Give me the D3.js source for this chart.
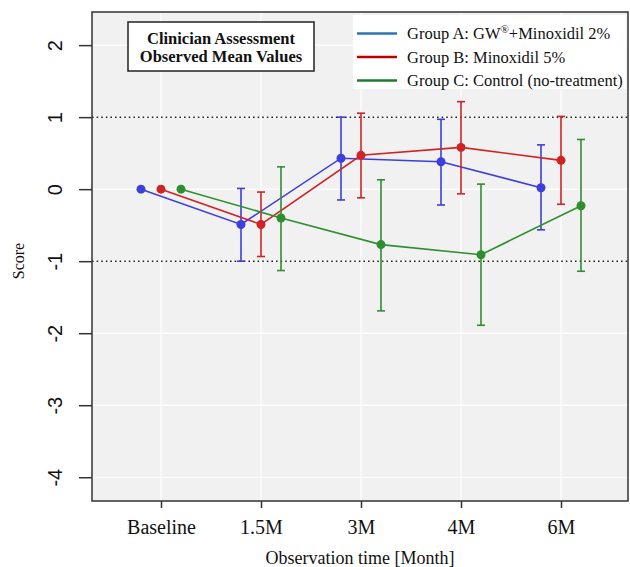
<!DOCTYPE html>
<html>
<head>
<meta charset="utf-8">
<script src="https://cdn.jsdelivr.net/npm/d3@7"></script>
<style>
  body { margin: 0; background: #fff; }
</style>
</head>
<body>
<svg></svg>
<script>
let width = 630;
let height = 567;

// data
let timepoints = ["Baseline", "1.5M", "3M", "4M", "6M"];
// legend labels as [before superscript, superscript, after]
let groupNames = [
  ["Group A: GW", "\u00AE", "+Minoxidil 2%"],
  ["Group B: Minoxidil 5%", "", ""],
  ["Group C: Control (no-treatment)", "", ""]
];

let meanA = [0, -0.49, 0.43, 0.38, 0.02];
let lowA  = [null, -1.00, -0.15, -0.22, -0.565];
let highA = [null, 0.01, 1.00, 0.97, 0.615];

let meanB = [0, -0.49, 0.47, 0.58, 0.40];
let lowB  = [null, -0.935, -0.12, -0.065, -0.21];
let highB = [null, -0.04, 1.055, 1.215, 1.01];

let meanC = [0, -0.40, -0.77, -0.91, -0.23];
let lowC  = [null, -1.13, -1.69, -1.89, -1.14];
let highC = [null, 0.31, 0.13, 0.07, 0.69];

let yTicks = [-4, -3, -2, -1, 0, 1, 2];
let refLines = [1, -1];

let series = [
  {name: groupNames[0], mean: meanA, low: lowA, high: highA, color: "#3c3fdc", legend: "#2e75b6", offset: -0.2},
  {name: groupNames[1], mean: meanB, low: lowB, high: highB, color: "#d02424", legend: "#c00000", offset: 0},
  {name: groupNames[2], mean: meanC, low: lowC, high: highC, color: "#2f8f2f", legend: "#1e7b2e", offset: 0.2}
];

let svg = d3.select('svg')
            .attr('width', width)
            .attr('height', height);

let pLeft = 92, pRight = 628, pTop = 12, pBottom = 501;

let x = d3.scaleLinear().domain([-0.69, 4.67]).range([pLeft, pRight]);
let y = d3.scaleLinear().domain([-4.33, 2.46]).range([pBottom, pTop]);

// plot background
svg.append("rect")
   .attr("x", pLeft).attr("y", pTop)
   .attr("width", pRight - pLeft).attr("height", pBottom - pTop)
   .attr("fill", "#f1f1f1");

// grid
svg.append("g").selectAll("line")
   .data(timepoints)
   .enter().append("line")
   .attr("x1", (d, i) => x(i)).attr("x2", (d, i) => x(i))
   .attr("y1", pTop).attr("y2", pBottom)
   .attr("stroke", "#fff").attr("stroke-width", 1.2);

svg.append("g").selectAll("line")
   .data(yTicks)
   .enter().append("line")
   .attr("x1", pLeft).attr("x2", pRight)
   .attr("y1", d => y(d)).attr("y2", d => y(d))
   .attr("stroke", "#fff").attr("stroke-width", 1.2);

// dotted reference lines
svg.append("g").selectAll("line")
   .data(refLines)
   .enter().append("line")
   .attr("x1", pLeft).attr("x2", pRight)
   .attr("y1", d => y(d)).attr("y2", d => y(d))
   .attr("stroke", "#222").attr("stroke-width", 1.5)
   .attr("stroke-dasharray", "1.6,3");

// series
let line = d3.line()
             .x(d => x(d.i + d.off))
             .y(d => y(d.v));

series.forEach(s => {
  let pts = s.mean.map((v, i) => ({i: i, v: v, off: s.offset, lo: s.low[i], hi: s.high[i]}));
  let g = svg.append("g");

  g.append("path")
   .datum(pts)
   .attr("d", line)
   .attr("fill", "none")
   .attr("stroke", s.color)
   .attr("stroke-width", 1.6);

  let bars = pts.filter(d => d.lo !== null);
  g.selectAll(".err")
   .data(bars)
   .enter().append("line")
   .attr("class", "err")
   .attr("x1", d => x(d.i + d.off)).attr("x2", d => x(d.i + d.off))
   .attr("y1", d => y(d.lo)).attr("y2", d => y(d.hi))
   .attr("stroke", s.color).attr("stroke-width", 1.6);

  ["lo", "hi"].forEach(k => {
    g.selectAll(".cap-" + k)
     .data(bars)
     .enter().append("line")
     .attr("class", "cap-" + k)
     .attr("x1", d => x(d.i + d.off) - 4).attr("x2", d => x(d.i + d.off) + 4)
     .attr("y1", d => y(d[k])).attr("y2", d => y(d[k]))
     .attr("stroke", s.color).attr("stroke-width", 1.6);
  });

  g.selectAll("circle")
   .data(pts)
   .enter().append("circle")
   .attr("cx", d => x(d.i + d.off))
   .attr("cy", d => y(d.v))
   .attr("r", 4.5)
   .attr("fill", s.color);
});

// frame
svg.append("rect")
   .attr("x", pLeft).attr("y", pTop)
   .attr("width", pRight - pLeft).attr("height", pBottom - pTop)
   .attr("fill", "none")
   .attr("stroke", "#333").attr("stroke-width", 1.5);

// y axis
let yAxis = svg.append("g")
   .attr("transform", "translate(" + pLeft + ",0)")
   .call(d3.axisLeft(y).tickValues(yTicks).tickSize(13).tickFormat(d => String(d)));
yAxis.select(".domain").remove();
yAxis.selectAll("line").attr("stroke", "#333").attr("stroke-width", 1.5);
yAxis.selectAll("text")
   .attr("x", null).attr("dy", null)
   .attr("text-anchor", "middle")
   .attr("transform", "translate(-30,0) rotate(-90)")
   .attr("font-family", "Liberation Sans, Arial, sans-serif")
   .attr("font-size", 20)
   .attr("fill", "#111");

// x axis
let xAxis = svg.append("g")
   .attr("transform", "translate(0," + pBottom + ")")
   .call(d3.axisBottom(x).tickValues(d3.range(timepoints.length)).tickSize(7)
          .tickFormat(i => timepoints[i]));
xAxis.select(".domain").remove();
xAxis.selectAll("line").attr("stroke", "#333").attr("stroke-width", 1.5);
xAxis.selectAll("text")
   .attr("y", 33).attr("dy", null)
   .attr("font-family", "Liberation Serif, Times New Roman, serif")
   .attr("font-size", 20)
   .attr("fill", "#111");

// axis titles
svg.append("text")
   .attr("x", 360).attr("y", 564)
   .attr("text-anchor", "middle")
   .attr("font-family", "Liberation Serif, Times New Roman, serif")
   .attr("font-size", 18)
   .attr("fill", "#111")
   .text("Observation time [Month]");

svg.append("text")
   .attr("transform", "translate(24,261) rotate(-90)")
   .attr("text-anchor", "middle")
   .attr("font-family", "Liberation Serif, Times New Roman, serif")
   .attr("font-size", 16)
   .attr("fill", "#111")
   .text("Score");

// title box
let tb = svg.append("g");
tb.append("rect")
  .attr("x", 128).attr("y", 22).attr("width", 186).attr("height", 49)
  .attr("fill", "#fff").attr("stroke", "#222").attr("stroke-width", 1.5);
tb.selectAll("text")
  .data(["Clinician Assessment", "Observed Mean Values"])
  .enter().append("text")
  .attr("x", 221)
  .attr("y", (d, i) => 43.5 + i * 18.5)
  .attr("text-anchor", "middle")
  .attr("font-family", "Liberation Serif, Times New Roman, serif")
  .attr("font-weight", "bold")
  .attr("font-size", 16.5)
  .attr("fill", "#111")
  .text(d => d);

// legend
let lg = svg.append("g");
lg.append("rect")
  .attr("x", 353).attr("y", 15).attr("width", 273).attr("height", 74)
  .attr("fill", "#fff");
let items = lg.selectAll(".item")
  .data(series)
  .enter().append("g")
  .attr("class", "item")
  .attr("transform", (d, i) => "translate(0," + (33.5 + i * 23.5) + ")");
items.append("line")
  .attr("x1", 357).attr("x2", 397)
  .attr("stroke", d => d.legend).attr("stroke-width", 2.5);
let lt = items.append("text")
  .attr("x", 407).attr("y", 5.5)
  .attr("font-family", "Liberation Serif, Times New Roman, serif")
  .attr("font-size", 16.5)
  .attr("fill", "#111");
lt.append("tspan").text(d => d.name[0]);
lt.append("tspan")
  .attr("font-size", 11).attr("dy", -6)
  .text(d => d.name[1]);
lt.append("tspan")
  .attr("dy", d => d.name[1] ? 6 : 0)
  .text(d => d.name[2]);
</script>
</body>
</html>
